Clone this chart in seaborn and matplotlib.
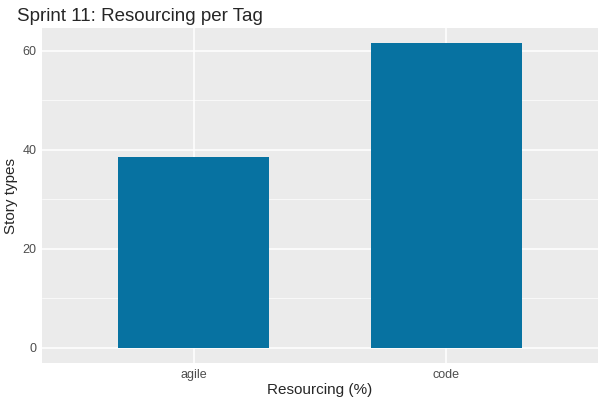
import matplotlib
matplotlib.use("Agg")
import matplotlib.pyplot as plt
import seaborn as sns
import pandas as pd

tags = ["agile", "code"]
values = [38.5, 61.5]
df = pd.DataFrame({"tag": tags, "value": values})

sns.set_theme(style="darkgrid", rc={"axes.facecolor": "#EBEBEB", "grid.color": "white"})
plt.rcParams['font.family'] = ['Liberation Sans', 'DejaVu Sans']

fig = plt.figure(figsize=(6, 4), dpi=100)
ax = fig.add_axes([42/600, 37/400, 556/600, 335/400])
sns.barplot(data=df, x="tag", y="value", color="#0772A1", saturation=1, width=0.6,
            linewidth=0, edgecolor="none", ax=ax)
ax.set_xlim(-0.6, 1.6)
ax.set_ylim(-3.1, 64.6)
ax.set_yticks([0, 20, 40, 60])
ax.set_yticks([10, 30, 50], minor=True)
ax.grid(which="major", color="white", linewidth=1.1)
ax.grid(which="minor", axis="y", color="white", linewidth=0.5)
ax.tick_params(axis="y", which="minor", length=0)
ax.tick_params(axis="both", which="major", length=3, width=0.8, color="#333333",
               labelsize=9, labelcolor="#4D4D4D", pad=1)
for s in ax.spines.values():
    s.set_visible(False)
ax.set_xlabel("Resourcing (%)", fontsize=11, labelpad=2)
ax.set_ylabel("Story types", fontsize=11, labelpad=3)
ax.set_title("Sprint 11: Resourcing per Tag", fontsize=13.5, loc="left", x=-0.045, pad=5)
fig.savefig("out.png", dpi=100)
